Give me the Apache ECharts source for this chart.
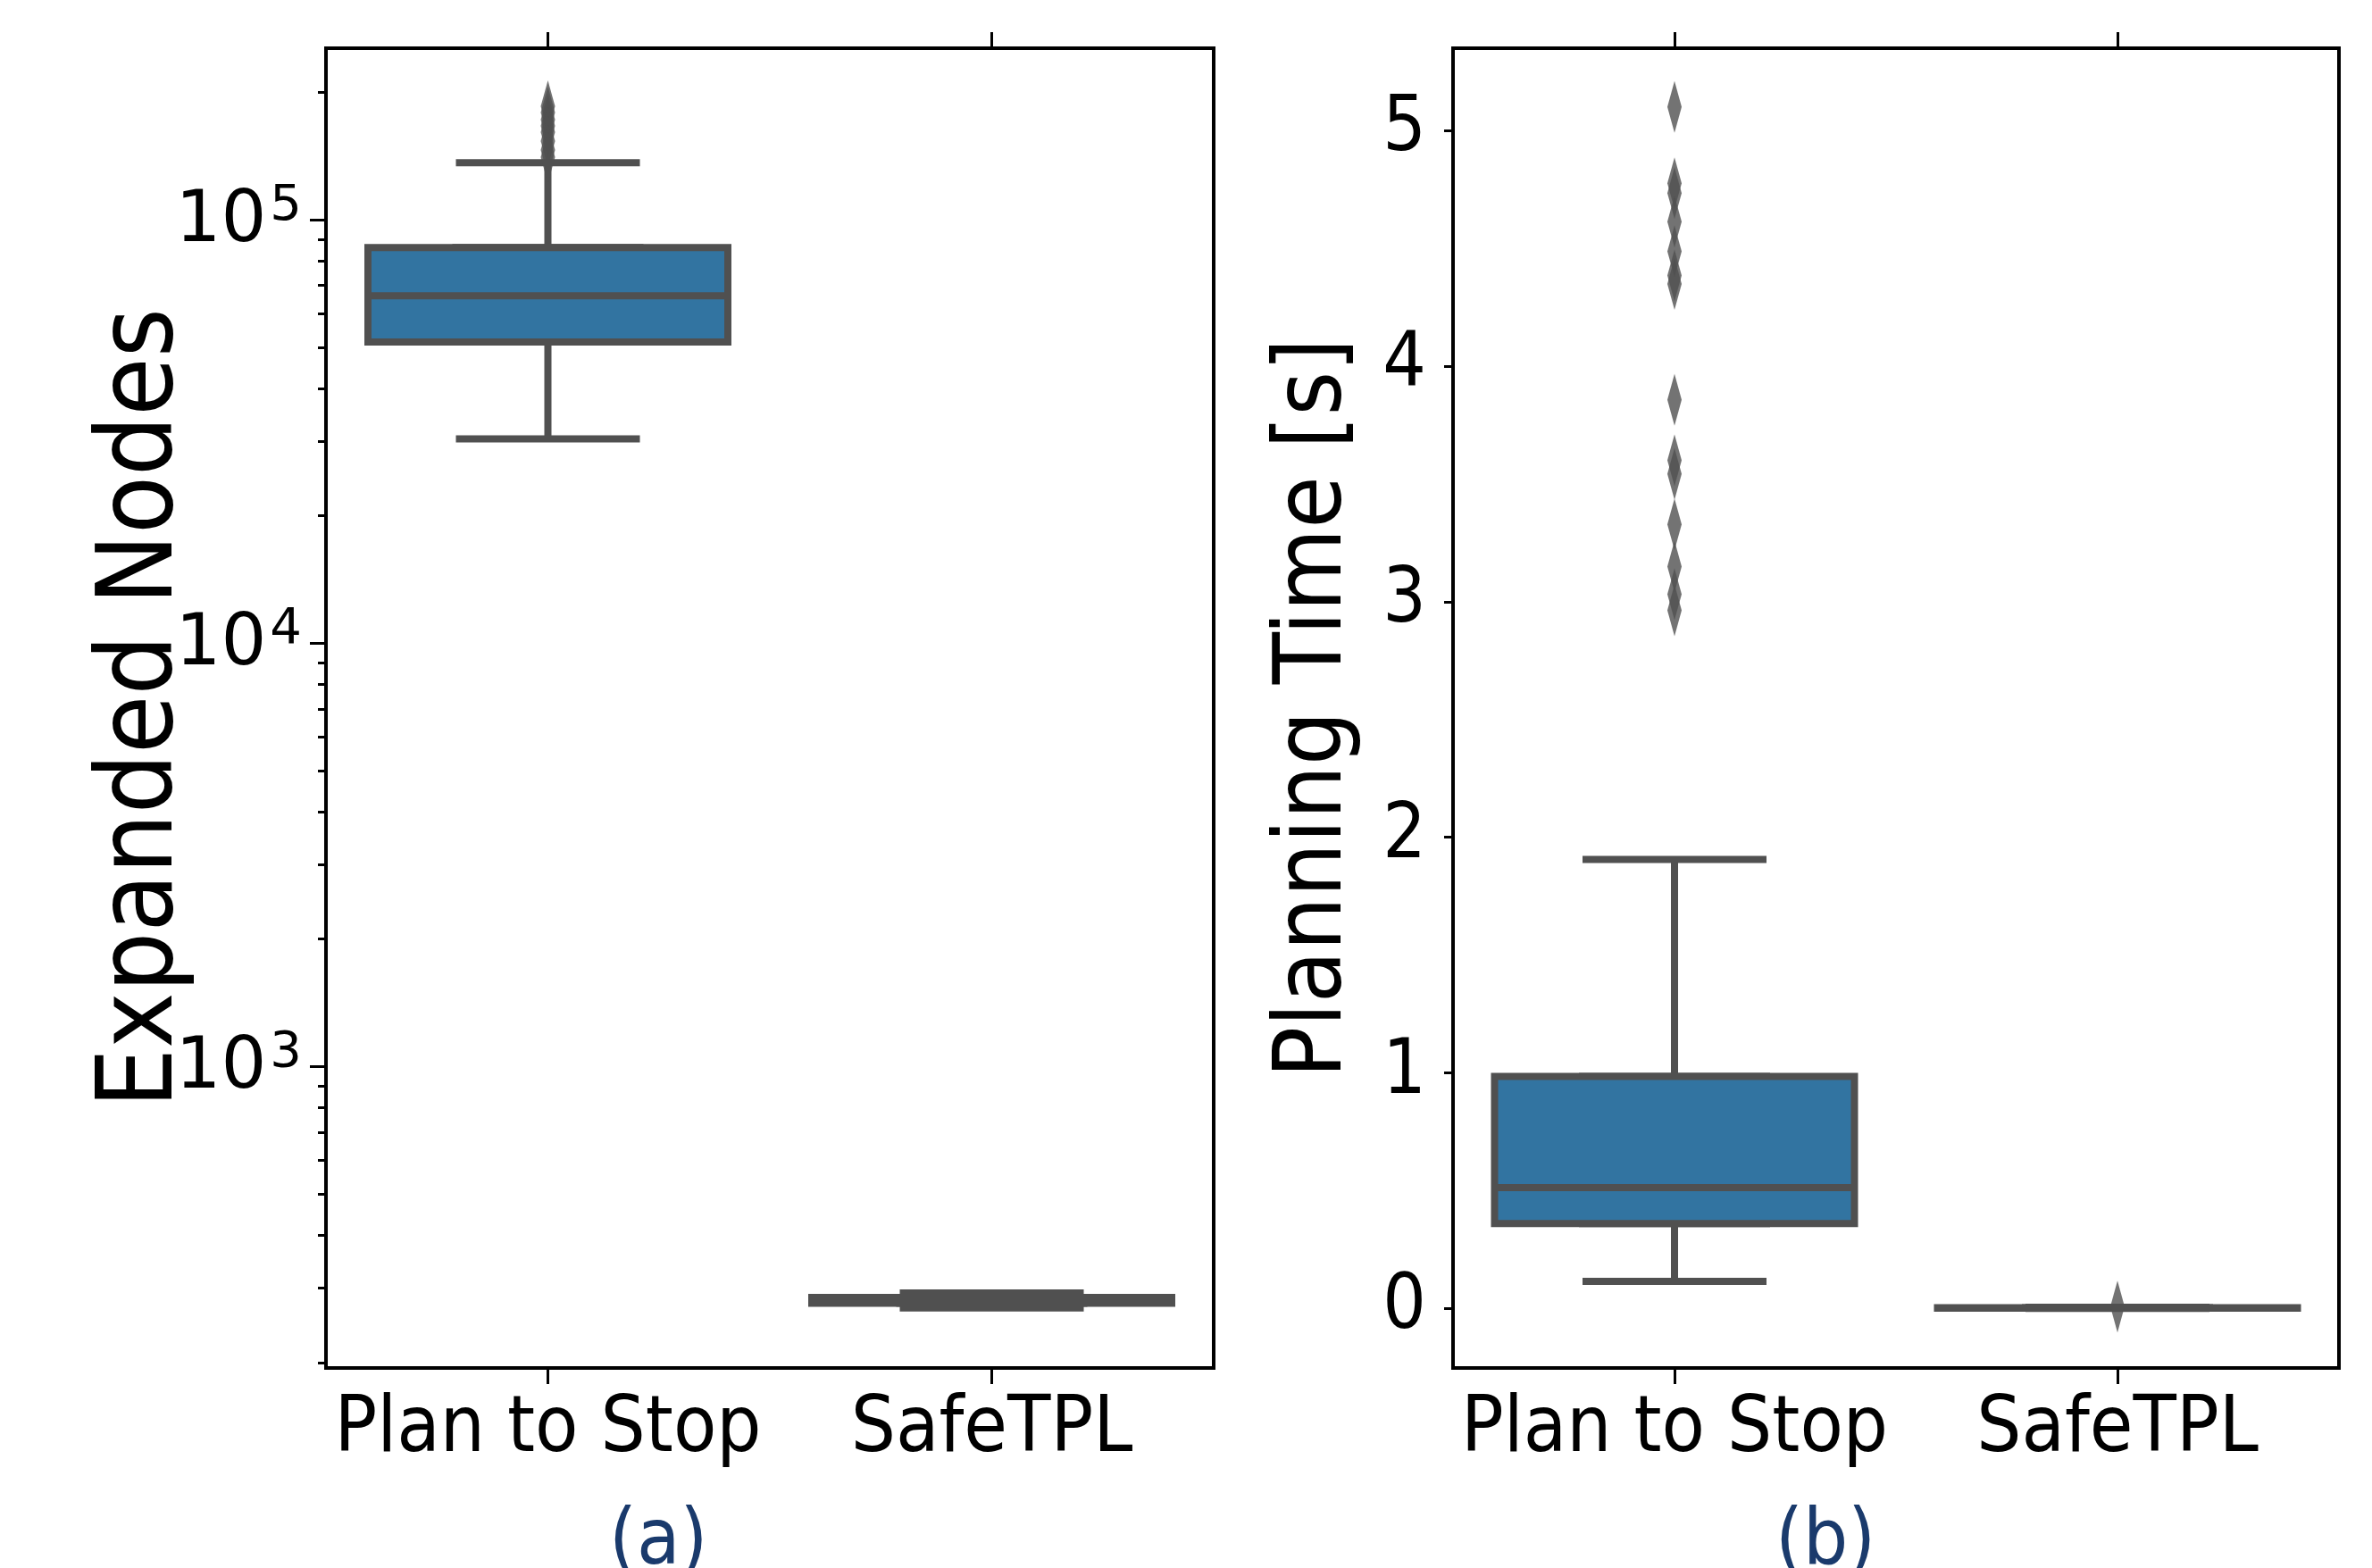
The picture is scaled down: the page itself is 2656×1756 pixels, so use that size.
<!DOCTYPE html>
<html>
<head>
<meta charset="utf-8">
<title>Expanded Nodes / Planning Time</title>
<script src="https://cdn.jsdelivr.net/npm/echarts@6/dist/echarts.min.js"></script>
<style>
  html, body { margin: 0; padding: 0; background: #fff; }
  #chart { width: 2656px; height: 1756px; }
</style>
</head>
<body>
<div id="chart"></div>
<script>
// categories
const methods = ["Plan to Stop", "SafeTPL"];

// (a) expanded nodes, [min, Q1, median, Q3, max] per method
const nodesBox = [
  [30400, 51500, 66200, 86000, 136500],
  [269, 276, 280.6, 284.8, 292],
];
const nodesOutliers = [185600, 179400, 172500, 166700, 161200, 153500, 146200, 140600];
const nodesMajorTicks = [1000, 10000, 100000];
const nodesMinorTicks = [200, 300, 400, 500, 600, 700, 800, 900,
  2000, 3000, 4000, 5000, 6000, 7000, 8000, 9000,
  20000, 30000, 40000, 50000, 60000, 70000, 80000, 90000, 200000];

// (b) planning time [s]
const timeBox = [
  [0.115, 0.36, 0.513, 0.985, 1.906],
  [0, 0.001, 0.002, 0.003, 0.005],
];
const timeOutliersPlan = [5.10, 4.776, 4.735, 4.613, 4.487, 4.385, 4.349,
  3.857, 3.600, 3.543, 3.328, 3.149, 3.032, 2.964];
const timeOutliersSafe = [0.008];
const timeTicks = [0, 1, 2, 3, 4, 5];

const chart = echarts.init(document.getElementById("chart"));

const narrowFont = '"Liberation Sans Narrow", "DejaVu Sans Condensed", "Open Sans", sans-serif';
const boxFill = "#3274a1";
const edge = "#505050";

// seaborn look: whiskers + half-width caps from a narrow box (bottom axis),
// body from a wide box (top axis, so echarts does not put them side by side)
function whiskerData(box) { return box; }
function bodyData(box) { return box.map(b => [b[1], b[1], b[2], b[3], b[3]]); }

function catAxis(grid, pos) {
  return {
    type: "category",
    gridIndex: grid,
    position: pos,
    data: methods,
    boundaryGap: true,
    axisLine: { show: true, onZero: false, lineStyle: { color: "#000", width: 4 } },
    axisTick: { show: true, alignWithLabel: true, interval: 0, inside: false, length: 18,
      lineStyle: { color: "#000", width: 3 } },
    axisLabel: { show: pos === "bottom", interval: 0, margin: 26, color: "#000",
      fontFamily: narrowFont, fontSize: 88 },
    splitLine: { show: false },
  };
}

const option = {
  animation: false,
  backgroundColor: "#fff",
  grid: [
    { left: 365, top: 54, width: 994, height: 1478, show: true,
      borderColor: "#000", borderWidth: 4, backgroundColor: "transparent" },
    { left: 1627, top: 54, width: 992, height: 1478, show: true,
      borderColor: "#000", borderWidth: 4, backgroundColor: "transparent" },
  ],
  xAxis: [
    catAxis(0, "bottom"),
    catAxis(0, "top"),
    catAxis(1, "bottom"),
    catAxis(1, "top"),
  ],
  yAxis: [
    {
      type: "log",
      gridIndex: 0,
      position: "left",
      min: 194.1,
      max: 254400,
      name: "Expanded Nodes",
      nameLocation: "middle",
      nameGap: 145,
      nameMoveOverlap: false,
      nameTextStyle: { fontFamily: narrowFont, fontSize: 118, color: "#000" },
      axisLine: { show: false },
      splitLine: { show: false },
      axisTick: { show: true, customValues: nodesMajorTicks, length: 18,
        lineStyle: { color: "#000", width: 3 } },
      axisLabel: {
        customValues: nodesMajorTicks,
        margin: 27,
        formatter: v => "{b|10}{s|" + Math.round(Math.log10(v)) + "}",
        rich: {
          b: { fontFamily: "DejaVu Sans", fontSize: 80, color: "#000", verticalAlign: "bottom" },
          s: { fontFamily: "DejaVu Sans", fontSize: 56, color: "#000", verticalAlign: "bottom",
            padding: [0, 0, 30, 4] },
        },
      },
    },
    {
      type: "log",
      gridIndex: 0,
      position: "left",
      min: 194.1,
      max: 254400,
      axisLine: { show: false },
      splitLine: { show: false },
      axisLabel: { show: false },
      axisTick: { show: true, customValues: nodesMinorTicks, length: 9,
        lineStyle: { color: "#000", width: 3 } },
    },
    {
      type: "value",
      gridIndex: 1,
      position: "left",
      min: -0.2527,
      max: 5.3497,
      name: "Planning Time [s]",
      nameLocation: "middle",
      nameGap: 101,
      nameMoveOverlap: false,
      nameTextStyle: { fontFamily: narrowFont, fontSize: 106, color: "#000" },
      axisLine: { show: false },
      splitLine: { show: false },
      axisTick: { show: true, customValues: timeTicks, length: 10,
        lineStyle: { color: "#000", width: 3 } },
      axisLabel: { customValues: timeTicks, margin: 30, color: "#000",
        fontFamily: narrowFont, fontSize: 85 },
    },
  ],
  series: [
    {
      type: "boxplot", xAxisIndex: 0, yAxisIndex: 0,
      data: whiskerData(nodesBox), boxWidth: [206, 206],
      itemStyle: { color: boxFill, borderColor: edge, borderWidth: 8 },
      emphasis: { disabled: true }, z: 2,
    },
    {
      type: "boxplot", xAxisIndex: 1, yAxisIndex: 0,
      data: bodyData(nodesBox), boxWidth: [403, 403],
      itemStyle: { color: boxFill, borderColor: edge, borderWidth: 8 },
      emphasis: { disabled: true }, z: 3,
    },
    {
      type: "scatter", xAxisIndex: 0, yAxisIndex: 0,
      data: nodesOutliers.map(v => [methods[0], v]),
      symbol: "diamond", symbolSize: [16, 58],
      itemStyle: { color: edge }, emphasis: { disabled: true }, z: 4,
    },
    {
      type: "boxplot", xAxisIndex: 2, yAxisIndex: 2,
      data: whiskerData(timeBox), boxWidth: [206, 206],
      itemStyle: { color: boxFill, borderColor: edge, borderWidth: 8 },
      emphasis: { disabled: true }, z: 2,
    },
    {
      type: "boxplot", xAxisIndex: 3, yAxisIndex: 2,
      data: bodyData(timeBox), boxWidth: [403, 403],
      itemStyle: { color: boxFill, borderColor: edge, borderWidth: 8 },
      emphasis: { disabled: true }, z: 3,
    },
    {
      type: "scatter", xAxisIndex: 2, yAxisIndex: 2,
      data: timeOutliersPlan.map(v => [methods[0], v])
        .concat(timeOutliersSafe.map(v => [methods[1], v])),
      symbol: "diamond", symbolSize: [16, 58],
      itemStyle: { color: edge }, emphasis: { disabled: true }, z: 4,
    },
  ],
  graphic: [
    { type: "text", left: 682, top: 1684,
      style: { text: "(a)", fill: "#1a3a6c", font: '88px ' + narrowFont } },
    { type: "text", left: 1988, top: 1684,
      style: { text: "(b)", fill: "#1a3a6c", font: '88px ' + narrowFont } },
  ],
};

chart.setOption(option);
</script>
</body>
</html>
